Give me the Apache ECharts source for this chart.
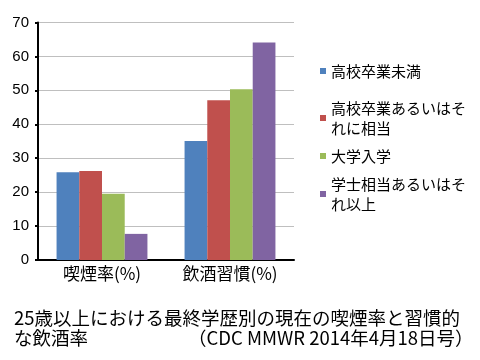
<!DOCTYPE html>
<html>
<head>
<meta charset="utf-8">
<script src="https://cdn.jsdelivr.net/npm/echarts@6/dist/echarts.min.js"></script>
<style>
html,body{margin:0;padding:0;background:#fff;}
#c{width:480px;height:360px;}
</style>
</head>
<body>
<div id="c"></div>
<script>
var categories = ['喫煙率(%)', '飲酒習慣(%)'];
var seriesNames = ['高校卒業未満', '高校卒業あるいはそ\nれに相当', '大学入学', '学士相当あるいはそ\nれ以上'];
var seriesColors = ['#4F81BD', '#C0504D', '#9BBB59', '#8064A2'];
var valuesBelowHS = [25.9, 35.1];
var valuesHS = [26.2, 47.1];
var valuesSomeCollege = [19.5, 50.3];
var valuesBachelor = [7.7, 64.1];
var yTicks = [0, 10, 20, 30, 40, 50, 60, 70];
var captionLine1 = '25歳以上における最終学歴別の現在の喫煙率と習慣的';
var captionLine2a = 'な飲酒率';
var captionLine2b = '（CDC MMWR 2014年4月18日号）';

var allValues = [valuesBelowHS, valuesHS, valuesSomeCollege, valuesBachelor];

var chart = echarts.init(document.getElementById('c'));
var series = seriesNames.map(function (n, i) {
  return {
    name: n, type: 'bar', data: allValues[i],
    itemStyle: { color: seriesColors[i] },
    barGap: '0%', barCategoryGap: '29%'
  };
});
var legendTops = [56, 83, 141, 159];
var legends = seriesNames.map(function (n, i) {
  var multi = n.indexOf('\n') >= 0;
  return {
    data: [n], left: 315, top: legendTops[i], orient: 'vertical',
    icon: 'rect', itemWidth: 6, itemHeight: 6, itemGap: 4,
    selectedMode: false,
    textStyle: {
      fontFamily: 'Noto Sans CJK JP', fontSize: 15, color: '#000', lineHeight: 20,
      padding: multi ? [20, 0, 0, 0] : 0
    }
  };
});
chart.setOption({
  animation: false,
  grid: { left: 38, right: 186, top: 22.5, bottom: 100, containLabel: false },
  legend: legends,
  xAxis: {
    type: 'category', data: categories,
    axisLine: { lineStyle: { color: '#000', width: 2 } },
    axisTick: { show: false },
    axisLabel: { fontFamily: 'Noto Sans CJK JP', fontSize: 17, color: '#000', margin: 5 }
  },
  yAxis: {
    type: 'value', min: yTicks[0], max: yTicks[yTicks.length - 1], interval: 10,
    axisLine: { show: true, lineStyle: { color: '#000', width: 2 } },
    axisTick: { show: true, length: 3, lineStyle: { color: '#000', width: 2 } },
    axisLabel: { fontFamily: 'Liberation Sans', fontSize: 15, color: '#000', margin: 9 },
    splitLine: { lineStyle: { color: '#bfbfbf', width: 1 } }
  },
  series: series,
  graphic: [
    { type: 'text', left: 14, top: 309, style: { text: captionLine1, fontFamily: 'Noto Sans CJK JP', fontSize: 18.5, fill: '#000' } },
    { type: 'text', left: 14, top: 329, style: { text: captionLine2a, fontFamily: 'Noto Sans CJK JP', fontSize: 18.5, fill: '#000' } },
    { type: 'text', left: 188, top: 329, style: { text: captionLine2b, fontFamily: 'Noto Sans CJK JP', fontSize: 18.5, fill: '#000' } }
  ]
});
</script>
</body>
</html>
